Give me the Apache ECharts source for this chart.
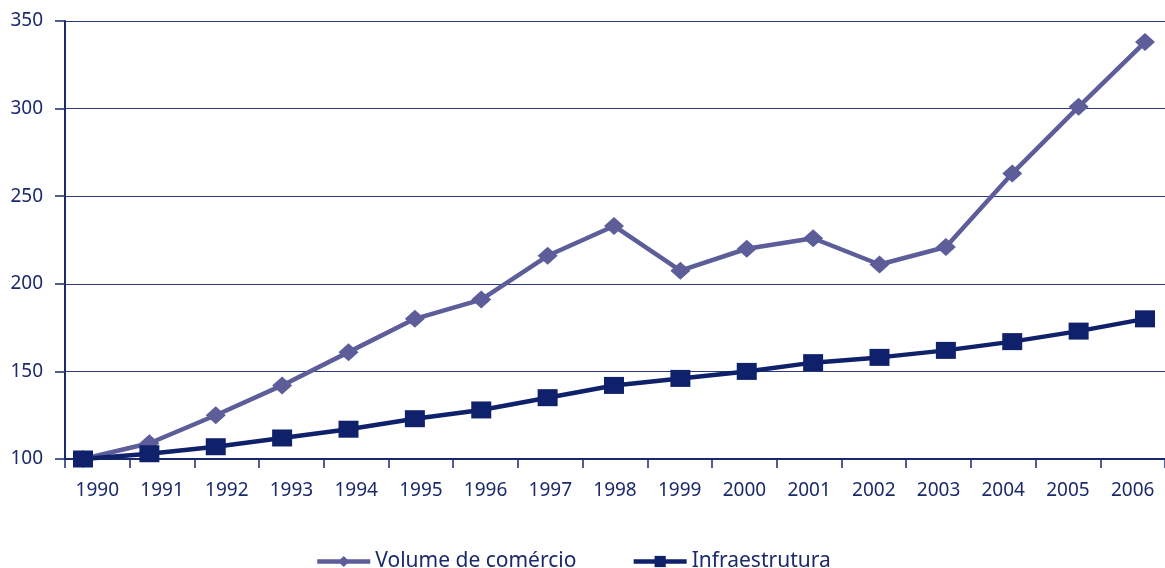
<!DOCTYPE html>
<html>
<head>
<meta charset="utf-8">
<script src="https://cdn.jsdelivr.net/npm/echarts@6/dist/echarts.min.js"></script>
<style>
  html, body { margin: 0; padding: 0; background: #fff; }
  #chart { width: 1165px; height: 568px; }
</style>
</head>
<body>
<div id="chart"></div>
<script>
var years = ['1990', '1991', '1992', '1993', '1994', '1995', '1996', '1997', '1998',
             '1999', '2000', '2001', '2002', '2003', '2004', '2005', '2006'];
var volumeComercio = [100, 109, 125, 142, 161, 180, 191, 216, 233, 207.5, 220, 226, 211, 221, 263, 301, 338];
var infraestrutura = [100, 103, 107, 112, 117, 123, 128, 135, 142, 146, 150, 155, 158, 162, 167, 173, 180];
var seriesNames = ['Volume de comércio', 'Infraestrutura'];

var navy = '#1b2a6b';
var font = 'Noto Sans';

(function () {
    var myChart = echarts.init(document.getElementById('chart'));

    var option = {
        backgroundColor: '#fff',
        animation: false,
        textStyle: { fontFamily: font, color: navy },
        grid: [
            // axes frame
            { left: 65, right: -3, top: 21, bottom: 109 },
            // data points (markers sit slightly off the category centres)
            { left: 83, right: 20, top: 21, bottom: 109 }
        ],
        legend: {
            data: seriesNames,
            left: 310,
            top: 546,
            itemWidth: 53,
            itemHeight: 14,
            itemGap: 55,
            lineStyle: { width: 4.5 },
            textStyle: { fontFamily: font, fontSize: 21, color: navy }
        },
        xAxis: [
            {
                type: 'category',
                gridIndex: 0,
                data: years,
                boundaryGap: true,
                axisLine: { lineStyle: { color: navy, width: 2 } },
                axisTick: { show: true, length: 9, lineStyle: { color: navy, width: 1.5 } },
                axisLabel: { fontSize: 19, color: navy, margin: 22, fontFamily: font }
            },
            {
                type: 'category',
                gridIndex: 1,
                data: years,
                boundaryGap: false,
                show: false
            }
        ],
        yAxis: [
            {
                type: 'value',
                gridIndex: 0,
                min: 100,
                max: 350,
                interval: 50,
                axisLine: { show: true, lineStyle: { color: navy, width: 2 } },
                axisTick: { show: true, length: 10, lineStyle: { color: navy, width: 1.5 } },
                axisLabel: { fontSize: 19, color: navy, margin: 22, fontFamily: font },
                splitLine: { show: true, lineStyle: { color: '#2b3a7a', width: 1 } }
            },
            {
                type: 'value',
                gridIndex: 1,
                min: 100,
                max: 350,
                interval: 50,
                show: false,
                splitLine: { show: false }
            }
        ],
        series: [
            {
                name: seriesNames[0],
                type: 'line',
                xAxisIndex: 1,
                yAxisIndex: 1,
                data: volumeComercio,
                symbol: 'diamond',
                symbolSize: [20, 18],
                lineStyle: { color: '#5c5d99', width: 4.5 },
                itemStyle: { color: '#5c5d99' },
                z: 2
            },
            {
                name: seriesNames[1],
                type: 'line',
                xAxisIndex: 1,
                yAxisIndex: 1,
                data: infraestrutura,
                symbol: 'rect',
                symbolSize: [20, 17],
                lineStyle: { color: '#10216b', width: 4.5 },
                itemStyle: { color: '#10216b' },
                z: 3
            }
        ]
    };

    myChart.setOption(option);
})();
</script>
</body>
</html>
